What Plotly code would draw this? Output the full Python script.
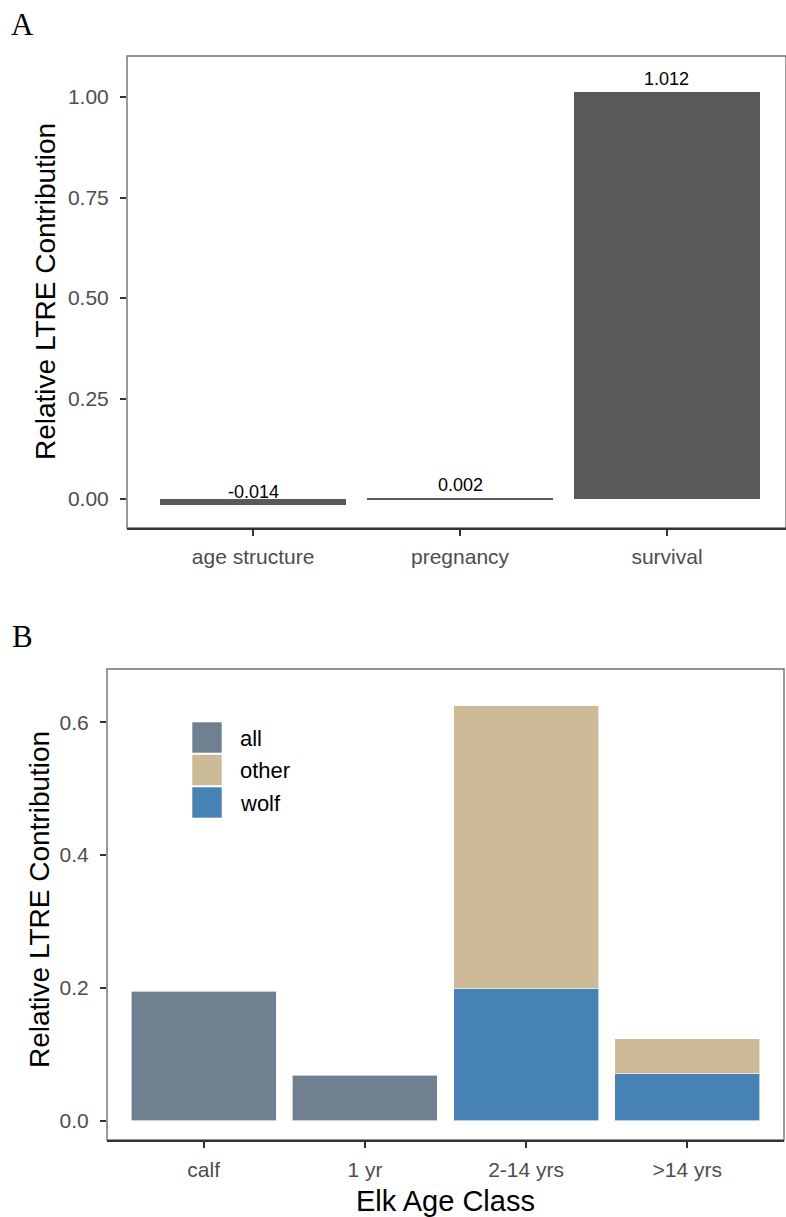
import plotly.graph_objects as go

W, H = 786, 1217

# ---------------- data ----------------
# Panel A
a_categories = ["age structure", "pregnancy", "survival"]
a_values = [-0.014, 0.002, 1.012]
a_labels = ["-0.014", "0.002", "1.012"]
a_ticks = [0.0, 0.25, 0.50, 0.75, 1.00]

# Panel B
b_categories = ["calf", "1 yr", "2-14 yrs", ">14 yrs"]
b_all = [0.195, 0.069, None, None]
b_other = [None, None, 0.426, 0.053]
b_wolf = [None, None, 0.199, 0.071]
b_ticks = [0.0, 0.2, 0.4, 0.6]

legend_names = ["all", "other", "wolf"]
legend_colors = ["#708090", "#CDBA96", "#4682B4"]
color_of = dict(zip(legend_names, legend_colors))

y_title = "Relative LTRE Contribution"
x_title_b = "Elk Age Class"

# ---------------- helpers ----------------
def px_x(p):
    return p / W

def px_y(p):
    return 1 - p / H

SANS = "Liberation Sans, Arial, sans-serif"
SERIF = "Liberation Serif, Times New Roman, serif"
TICKFONT = dict(family=SANS, size=21, color="#4D4D4D")
TITLEFONT = dict(family=SANS, size=29, color="black")

fig = go.Figure()

# Panel A bars
fig.add_trace(go.Bar(
    x=a_categories, y=a_values, width=0.9,
    marker=dict(color="#595959", line=dict(width=0)),
    xaxis="x", yaxis="y", showlegend=False, hoverinfo="x+y",
))

# Panel B stacked bars (wolf at bottom, then other, then all)
for name, vals in [("wolf", b_wolf), ("other", b_other), ("all", b_all)]:
    fig.add_trace(go.Bar(
        x=b_categories, y=vals, width=0.9, name=name,
        marker=dict(color=color_of[name], line=dict(color="white", width=0.6)),
        xaxis="x2", yaxis="y2", showlegend=False,
    ))

axis_common = dict(
    showgrid=False, zeroline=False, ticks="outside", ticklen=6, tickwidth=1.5,
    tickcolor="#333333", tickfont=TICKFONT,
)

fig.update_layout(
    width=W, height=H, margin=dict(l=0, r=0, t=0, b=0),
    paper_bgcolor="white", plot_bgcolor="white",
    barmode="stack", bargap=0.1,
    xaxis=dict(domain=[px_x(127), 1.0], range=[-0.609, 2.575], type="category",
               categoryorder="array", categoryarray=a_categories,
               showline=True, linecolor="#333333", linewidth=2,
               ticklabelstandoff=3, anchor="y", **axis_common),
    yaxis=dict(domain=[px_y(528), px_y(56)], range=[-0.0721, 1.102],
               tickvals=a_ticks, tickformat=".2f", showline=False,
               ticklabelstandoff=7, anchor="x", **axis_common),
    xaxis2=dict(domain=[px_x(107), px_x(784)], range=[-0.6, 3.6], type="category",
                categoryorder="array", categoryarray=b_categories,
                showline=True, linecolor="#333333", linewidth=2,
                ticklabelstandoff=4, anchor="y2",
                title=dict(text=x_title_b, font=TITLEFONT, standoff=12), **axis_common),
    yaxis2=dict(domain=[px_y(1140), px_y(669)], range=[-0.0286, 0.680],
                tickvals=b_ticks, tickformat=".1f", showline=False,
                ticklabelstandoff=7, anchor="x2", **axis_common),
)

shapes = []
for xr, yr in [("x domain", "y domain"), ("x2 domain", "y2 domain")]:
    shapes.append(dict(type="rect", xref=xr, yref=yr, x0=0, x1=1, y0=0, y1=1,
                       line=dict(color="#707070", width=1.4), layer="below"))

annotations = []
# y-axis titles
annotations.append(dict(x=px_x(45), y=px_y(292), xref="paper", yref="paper", text=y_title,
                        textangle=-90, showarrow=False, xanchor="center", yanchor="middle",
                        font=dict(family=SANS, size=28, color="black")))
annotations.append(dict(x=px_x(39), y=px_y(900), xref="paper", yref="paper", text=y_title,
                        textangle=-90, showarrow=False, xanchor="center", yanchor="middle",
                        font=dict(family=SANS, size=28, color="black")))

# bar value labels (panel A)
for c, v, t in zip(a_categories, a_values, a_labels):
    annotations.append(dict(x=c, y=v, xref="x", yref="y", text=t, showarrow=False,
                            yanchor="bottom", yshift=1,
                            font=dict(family=SANS, size=18, color="black")))

# panel letters
annotations.append(dict(x=px_x(9), y=px_y(24), xref="paper", yref="paper", text="A",
                        showarrow=False, xanchor="left", yanchor="middle",
                        font=dict(family=SERIF, size=31, color="black")))
annotations.append(dict(x=px_x(10), y=px_y(636), xref="paper", yref="paper", text="B",
                        showarrow=False, xanchor="left", yanchor="middle",
                        font=dict(family=SERIF, size=31, color="black")))

# manual legend (panel B)
key_x0, key_x1 = 192, 222
row_top, row_h = 722, 32.5
for i, (name, col) in enumerate(zip(legend_names, legend_colors)):
    t = row_top + i * row_h
    shapes.append(dict(type="rect", xref="paper", yref="paper",
                       x0=px_x(key_x0), x1=px_x(key_x1), y0=px_y(t + row_h - 1.5), y1=px_y(t),
                       fillcolor=col, line=dict(color="white", width=0.6), layer="above"))
    annotations.append(dict(x=px_x(238), y=px_y(t + row_h / 2), xref="paper", yref="paper",
                            text=name, showarrow=False, xanchor="left", yanchor="middle",
                            font=dict(family=SANS, size=22, color="black")))

fig.update_layout(shapes=shapes, annotations=annotations)

fig.write_html("out.html")
